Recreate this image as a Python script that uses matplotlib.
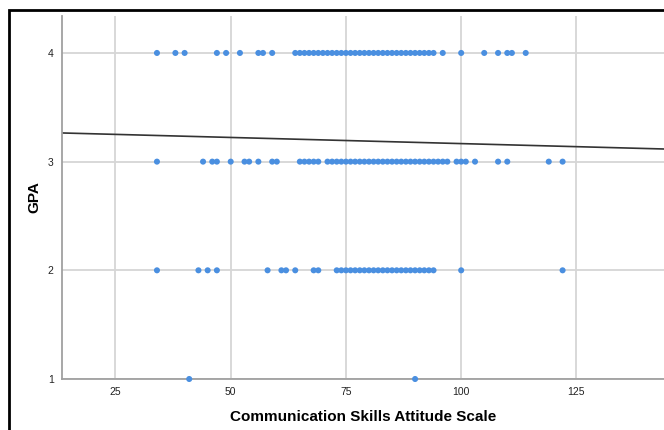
import numpy as np
import matplotlib
matplotlib.use("Agg")
import matplotlib.pyplot as plt
from matplotlib.patches import Rectangle

plt.rcParams['font.family'] = ['Liberation Sans', 'DejaVu Sans']

# scores, one list per GPA level
gpa4_x = [34, 38, 40, 47, 49, 52, 56, 57, 59] + list(range(64, 95)) + [96, 100, 105, 108, 110, 111, 114]
gpa3_x = [34, 44, 46, 47, 50, 53, 54, 56, 59, 60, 65, 66, 67, 68, 69] + list(range(71, 98)) + [99, 100, 101, 103, 108, 110, 119, 122]
gpa2_x = [34, 43, 45, 47, 58, 61, 62, 64, 68, 69] + list(range(73, 95)) + [100, 122]
gpa1_x = [41, 90]

# fit line (intercept, slope) as shown in the chart
fit_b0 = 3.279
fit_b1 = -0.00113

xs = np.array(gpa4_x + gpa3_x + gpa2_x + gpa1_x)
ys = np.array([4]*len(gpa4_x) + [3]*len(gpa3_x) + [2]*len(gpa2_x) + [1]*len(gpa1_x))

fig = plt.figure(figsize=(6.64, 4.30), dpi=100)
ax = fig.add_axes([62/664, 51/430, 1 - 62/664, (379-16)/430])

xmin, xmax = 13.4, 144
ax.set_xlim(xmin, xmax)
ax.set_ylim(1, 4.34)

ax.set_xticks([25, 50, 75, 100, 125])
ax.set_yticks([1, 2, 3, 4])
ax.grid(True, color='#d6d6d6', lw=1.3)
ax.set_axisbelow(True)

ax.scatter(xs, ys, s=19, color='#4a8fe0', edgecolors='none', zorder=3, clip_on=False)

lx = np.array([xmin, xmax])
ax.plot(lx, fit_b0 + fit_b1*lx, color='#333333', lw=1.2, zorder=2)

for s in ['top', 'right']:
    ax.spines[s].set_visible(False)
for s in ['left', 'bottom']:
    ax.spines[s].set_color('#a0a0a0')
    ax.spines[s].set_linewidth(1.3)

ax.tick_params(length=0, labelsize=7.5, colors='#222222', pad=6)
ax.set_xlabel('Communication Skills Attitude Scale', fontsize=11, fontweight='bold', labelpad=9)
ax.set_ylabel('GPA', fontsize=11, fontweight='bold', labelpad=4.5)

# black frame around the whole picture (cropped on right and bottom)
fig.patches.append(Rectangle((9/664, -0.05), 1.1, 1 - 10/430 + 0.05, transform=fig.transFigure,
                             fill=False, edgecolor='black', lw=2, clip_on=False))

fig.savefig('out.png', dpi=100)
